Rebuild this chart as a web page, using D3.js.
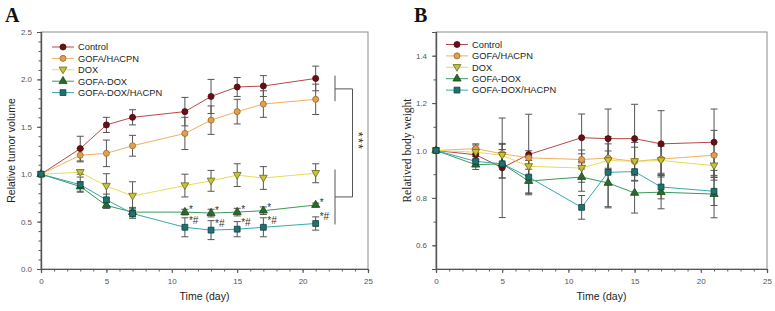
<!DOCTYPE html>
<html lang="en">
<head>
    <meta charset="UTF-8">
    <title>Tumor volume and body weight</title>
    <script src="https://d3js.org/d3.v7.min.js"></script>
    <style>
        body { margin: 0; background: #fff; }
        text { font-family: Arial, "Liberation Sans", sans-serif; }
    </style>
</head>
<body>
<script>
    const width = 775;
    const height = 311;

    const days = [0, 3, 5, 7, 11, 13, 15, 17, 21];
    const groups = ["Control", "GOFA/HACPN", "DOX", "GOFA-DOX", "GOFA-DOX/HACPN"];

    // panel A: relative tumor volume (mean, sd)
    const tumorControl = [1.00, 1.27, 1.52, 1.60, 1.66, 1.82, 1.92, 1.93, 2.01];
    const tumorControlSd = [0, 0.13, 0.08, 0.08, 0.15, 0.18, 0.10, 0.11, 0.13];
    const tumorGofa = [1.00, 1.20, 1.22, 1.30, 1.43, 1.57, 1.66, 1.74, 1.79];
    const tumorGofaSd = [0, 0.07, 0.14, 0.11, 0.17, 0.15, 0.13, 0.14, 0.16];
    const tumorDox = [1.00, 1.02, 0.875, 0.77, 0.88, 0.93, 0.99, 0.96, 1.01];
    const tumorDoxSd = [0, 0.02, 0.13, 0.15, 0.12, 0.11, 0.12, 0.12, 0.10];
    const tumorGofaDox = [1.00, 0.87, 0.67, 0.60, 0.60, 0.59, 0.60, 0.615, 0.675];
    const tumorGofaDoxSd = [0, 0.05, 0.03, 0.05, 0.03, 0.04, 0.04, 0.04, 0.02];
    const tumorGofaDoxHa = [1.00, 0.89, 0.73, 0.585, 0.44, 0.41, 0.42, 0.44, 0.48];
    const tumorGofaDoxHaSd = [0, 0.08, 0.06, 0.05, 0.10, 0.10, 0.08, 0.10, 0.07];

    // panel B: relative body weight (mean, sd)
    const weightControl = [1.00, 0.982, 0.927, 0.983, 1.054, 1.05, 1.05, 1.028, 1.035];
    const weightControlSd = [0, 0.03, 0.21, 0.17, 0.10, 0.125, 0.145, 0.14, 0.14];
    const weightGofa = [1.00, 1.008, 0.986, 0.969, 0.962, 0.968, 0.954, 0.964, 0.98];
    const weightGofaSd = [0, 0.02, 0.04, 0.03, 0.04, 0.06, 0.06, 0.06, 0.105];
    const weightDox = [1.00, 0.993, 0.98, 0.933, 0.926, 0.958, 0.954, 0.958, 0.936];
    const weightDoxSd = [0, 0.03, 0.05, 0.04, 0.06, 0.04, 0.08, 0.06, 0.05];
    const weightGofaDox = [1.00, 0.94, 0.944, 0.871, 0.888, 0.863, 0.821, 0.824, 0.816];
    const weightGofaDoxSd = [0, 0.02, 0.06, 0.05, 0.06, 0.10, 0.085, 0.07, 0.10];
    const weightGofaDoxHa = [1.00, 0.954, 0.944, 0.888, 0.76, 0.908, 0.911, 0.846, 0.828];
    const weightGofaDoxHaSd = [0, 0.02, 0.06, 0.07, 0.05, 0.15, 0.04, 0.05, 0.06];

    // significance marks on panel A
    const starDays = [11, 13, 15, 17, 21];

    const styles = [
        {line: "#b84848", fill: "#6b0e16", stroke: "#4a0a0e", shape: d3.symbolCircle},
        {line: "#f0b060", fill: "#e0a050", stroke: "#a06820", shape: d3.symbolCircle},
        {line: "#e8dc55", fill: "#c8c240", stroke: "#6a6a10", shape: "down"},
        {line: "#3a9a5a", fill: "#2a6a2a", stroke: "#1a4a1a", shape: d3.symbolTriangle},
        {line: "#3aa8a8", fill: "#1f7272", stroke: "#0f4040", shape: d3.symbolSquare}
    ];

    const svg = d3.select("body").append("svg")
            .attr("width", width).attr("height", height);

    function marker(g, i, x, y) {
        const s = styles[i];
        let path;
        if (s.shape === "down") {
            path = d3.symbol().type(d3.symbolTriangle).size(26)();
            g.append("path").attr("d", path)
                .attr("transform", `translate(${x},${y - 0.5}) rotate(180)`)
                .style("fill", s.fill).style("stroke", s.stroke).style("stroke-width", 0.8);
        } else {
            const size = s.shape === d3.symbolSquare ? 34 : 29;
            path = d3.symbol().type(s.shape).size(size)();
            g.append("path").attr("d", path)
                .attr("transform", `translate(${x},${y})`)
                .style("fill", s.fill).style("stroke", s.stroke).style("stroke-width", 0.8);
        }
    }

    function panel(opt) {
        const x = d3.scaleLinear().domain([0, 25]).range([opt.left, opt.right]);
        const y = d3.scaleLinear().domain(opt.yDomain).range([opt.bottom, opt.top]);
        const g = svg.append("g");

        // frame
        g.append("rect")
                .attr("x", opt.left).attr("y", opt.top)
                .attr("width", opt.right - opt.left).attr("height", opt.bottom - opt.top)
                .style("fill", "none").style("stroke", "#8a8a8a").style("stroke-width", 1);

        // axes
        const xAxis = d3.axisBottom(x).tickValues([0, 5, 10, 15, 20, 25]).tickSize(4).tickPadding(5);
        const xMinor = d3.axisBottom(x).tickValues(d3.range(0, 26, 1)).tickSize(2.5).tickFormat("");
        const yAxis = d3.axisLeft(y).tickValues(opt.yTicks).tickSize(4).tickPadding(5)
                .tickFormat(d3.format(".1f"));
        const yMinor = d3.axisLeft(y).tickValues(opt.yMinor).tickSize(2.5).tickFormat("");

        [[xMinor, "x"], [xAxis, "x"], [yMinor, "y"], [yAxis, "y"]].forEach(([ax, k]) => {
            const a = g.append("g")
                    .attr("transform", k === "x" ? `translate(0,${opt.bottom})` : `translate(${opt.left},0)`)
                    .call(ax);
            a.select(".domain").style("stroke", "#555").style("stroke-width", 1.2);
            a.selectAll(".tick line").style("stroke", "#555");
            a.selectAll("text").style("font-size", "8px").style("fill", "#555")
                    .style("font-family", "Arial, 'Liberation Sans', sans-serif");
        });

        // axis titles
        g.append("text").attr("x", (opt.left + opt.right) / 2).attr("y", 300)
                .attr("text-anchor", "middle").style("font-size", "10.5px").style("fill", "#222")
                .text("Time (day)");
        g.append("text")
                .attr("transform", `translate(${opt.yLabelX},${(opt.top + opt.bottom) / 2}) rotate(-90)`)
                .attr("text-anchor", "middle").style("font-size", opt.yLabelSize).style("fill", "#222")
                .style("font-family", opt.yLabelFont)
                .text(opt.yLabel);

        // panel letter
        g.append("text").attr("x", opt.letterX).attr("y", 22)
                .style("font-family", "'Liberation Serif', 'Times New Roman', serif")
                .style("font-weight", "bold").style("font-size", "20px").style("fill", "#111")
                .text(opt.letter);

        const line = d3.line().x((d, j) => x(days[j])).y(d => y(d));

        opt.series.forEach((vals, i) => {
            g.append("path").datum(vals).attr("d", line)
                    .style("fill", "none").style("stroke", styles[i].line).style("stroke-width", 1);
        });

        // error bars
        opt.series.forEach((vals, i) => {
            const sd = opt.sds[i];
            vals.forEach((v, j) => {
                if (!sd[j]) return;
                const cx = x(days[j]);
                const eb = g.append("g").style("stroke", "#555").style("stroke-width", 1);
                eb.append("line").attr("x1", cx).attr("x2", cx)
                        .attr("y1", y(v - sd[j])).attr("y2", y(v + sd[j]));
                [v - sd[j], v + sd[j]].forEach(e => {
                    eb.append("line").attr("x1", cx - 3.5).attr("x2", cx + 3.5)
                            .attr("y1", y(e)).attr("y2", y(e));
                });
            });
        });

        opt.series.forEach((vals, i) => {
            vals.forEach((v, j) => marker(g, i, x(days[j]), y(v)));
        });

        // legend
        groups.forEach((name, i) => {
            const ly = opt.legendY + i * 11.4;
            g.append("line").attr("x1", opt.legendX).attr("x2", opt.legendX + 22)
                    .attr("y1", ly).attr("y2", ly)
                    .style("stroke", styles[i].line).style("stroke-width", 1);
            marker(g, i, opt.legendX + 11, ly);
            g.append("text").attr("x", opt.legendX + 26).attr("y", ly + 3.3)
                    .style("font-size", "9.3px").style("fill", "#222").text(name);
        });

        return {g, x, y};
    }

    const A = panel({
        left: 41, right: 368, top: 32, bottom: 269,
        yDomain: [0, 2.5], yTicks: [0, 0.5, 1.0, 1.5, 2.0, 2.5],
        yMinor: d3.range(0, 26).map(d => d / 10),
        yLabel: "Relative tumor volume", yLabelX: 15, yLabelSize: "10.5px",
        yLabelFont: "Arial, 'Liberation Sans', sans-serif",
        letter: "A", letterX: 5,
        legendX: 52, legendY: 47,
        series: [tumorControl, tumorGofa, tumorDox, tumorGofaDox, tumorGofaDoxHa],
        sds: [tumorControlSd, tumorGofaSd, tumorDoxSd, tumorGofaDoxSd, tumorGofaDoxHaSd]
    });

    // stars on panel A
    starDays.forEach(d => {
        const j = days.indexOf(d);
        A.g.append("text").attr("x", A.x(d) + 4).attr("y", A.y(tumorGofaDox[j]) + 0.5)
                .style("font-size", "10px").style("fill", "#333").text("*");
        A.g.append("text").attr("x", A.x(d) + 4).attr("y", A.y(tumorGofaDoxHa[j]) - 3.5)
                .style("font-size", "10px").style("fill", "#333").text("*#");
    });

    // brackets on panel A
    const bx1 = 335, bx2 = 352.5;
    const br = A.g.append("g").style("stroke", "#555").style("stroke-width", 1).style("fill", "none");
    const topMid = (A.y(tumorControl[8]) + A.y(tumorGofa[8])) / 2;
    const lowTop = A.y(1.05), lowBot = A.y(0.47);
    const lowMid = (lowTop + lowBot) / 2;
    br.append("line").attr("x1", bx1).attr("x2", bx1).attr("y1", A.y(2.04)).attr("y2", A.y(1.77));
    br.append("line").attr("x1", bx1).attr("x2", bx2).attr("y1", topMid).attr("y2", topMid);
    br.append("line").attr("x1", bx1).attr("x2", bx1).attr("y1", lowTop).attr("y2", lowBot);
    br.append("line").attr("x1", bx1).attr("x2", bx2).attr("y1", lowMid).attr("y2", lowMid);
    br.append("line").attr("x1", bx2).attr("x2", bx2).attr("y1", topMid).attr("y2", lowMid);
    A.g.append("text")
            .attr("transform", `translate(${bx2 + 1},${(topMid + lowMid) / 2 - 2}) rotate(90)`)
            .attr("text-anchor", "middle").style("font-size", "13px").style("fill", "#333")
            .style("letter-spacing", "1px")
            .text("***");

    panel({
        left: 436, right: 767, top: 32, bottom: 269,
        yDomain: [0.5, 1.5], yTicks: [0.6, 0.8, 1.0, 1.2, 1.4],
        yMinor: d3.range(5, 16).map(d => d / 10),
        yLabel: "Relatived body weight", yLabelX: 411, yLabelSize: "11.5px",
        yLabelFont: "'Liberation Serif', 'Times New Roman', serif",
        letter: "B", letterX: 414,
        legendX: 446, legendY: 44.5,
        series: [weightControl, weightGofa, weightDox, weightGofaDox, weightGofaDoxHa],
        sds: [weightControlSd, weightGofaSd, weightDoxSd, weightGofaDoxSd, weightGofaDoxHaSd]
    });
</script>
</body>
</html>
